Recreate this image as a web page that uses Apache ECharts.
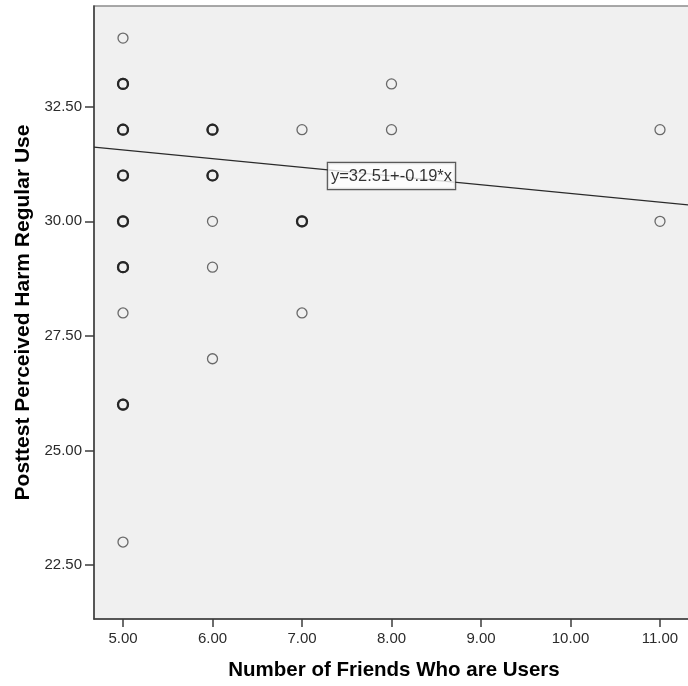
<!DOCTYPE html>
<html>
<head>
<meta charset="utf-8">
<script src="https://cdn.jsdelivr.net/npm/echarts@6/dist/echarts.min.js"></script>
<style>
  html, body { margin: 0; padding: 0; background: #ffffff; overflow: hidden; }
  #chart { width: 688px; height: 686px; }
</style>
</head>
<body>
<div id="chart"></div>
<script>
// Number of friends who are users (x) for each respondent
const friends = [
  5, 5, 5, 5, 5, 5, 5, 5, 5, 5, 5, 5, 5, 5, 5,
  6, 6, 6, 6, 6, 6, 6,
  7, 7, 7, 7,
  8, 8,
  11, 11
];
// Posttest perceived harm of regular use (y) for each respondent
const harm = [
  34, 33, 33, 32, 32, 31, 31, 30, 30, 29, 29, 28, 26, 26, 23,
  32, 32, 31, 31, 30, 29, 27,
  32, 30, 30, 28,
  33, 32,
  32, 30
];
// Fitted linear regression: y = intercept + slope * x
const intercept = [32.51];
const slope = [-0.19];
const xTicks = [5, 6, 7, 8, 9, 10, 11];
const yTicks = [22.5, 25, 27.5, 30, 32.5];
const xRange = [4.676, 11.38];
const yRange = [21.32, 34.70];

// Overlapping respondents are drawn with a heavier outline
const counts = {};
friends.forEach((f, i) => { const k = f + '|' + harm[i]; counts[k] = (counts[k] || 0) + 1; });
const points = friends.map((f, i) => {
  const many = counts[f + '|' + harm[i]] > 1;
  return {
    value: [f, harm[i]],
    itemStyle: many ? { borderWidth: 2.2, borderColor: '#1e1e1e' } : { borderWidth: 1.3, borderColor: '#474747' }
  };
});
const fit = x => intercept[0] + slope[0] * x;
const fitLine = xRange.map(x => [x, fit(x)]);
const labelX = 8;
const fitText = 'y=' + intercept[0].toFixed(2) + '+' + slope[0].toFixed(2) + '*x';

const family = 'Liberation Sans, Arial, sans-serif';
const tickFont = { fontFamily: family, fontSize: 15, color: '#2b2b2b' };
const nameFont = { fontFamily: family, fontSize: 20.5, fontWeight: 'bold', color: '#000' };

const chart = echarts.init(document.getElementById('chart'), null, { renderer: 'canvas' });
chart.setOption({
  animation: false,
  backgroundColor: '#ffffff',
  grid: {
    left: 94, top: 6, width: 600, bottom: 67,
    outerBoundsMode: 'none',
    containLabel: false,
    show: true, backgroundColor: '#f0f0f0', borderColor: '#8c8c8c', borderWidth: 1.5
  },
  xAxis: {
    type: 'value', min: xRange[0], max: xRange[1],
    name: 'Number of Friends Who are Users', nameLocation: 'middle', nameGap: 41,
    nameTextStyle: nameFont,
    splitLine: { show: false },
    axisLine: { show: true, lineStyle: { color: '#3c3c3c', width: 1.5 } },
    axisTick: { show: true, length: 8, customValues: xTicks, lineStyle: { color: '#3c3c3c', width: 1.5 } },
    axisLabel: Object.assign({ customValues: xTicks, margin: 12, formatter: v => v.toFixed(2) }, tickFont)
  },
  yAxis: {
    type: 'value', min: yRange[0], max: yRange[1],
    name: 'Posttest Perceived Harm Regular Use', nameLocation: 'middle', nameGap: 57,
    nameTextStyle: Object.assign({}, nameFont, { fontSize: 21 }),
    splitLine: { show: false },
    axisLine: { show: true, lineStyle: { color: '#3c3c3c', width: 1.5 } },
    axisTick: { show: true, length: 9, customValues: yTicks, lineStyle: { color: '#3c3c3c', width: 1.5 } },
    axisLabel: Object.assign({ customValues: yTicks, margin: 12, formatter: v => v.toFixed(2) }, tickFont)
  },
  series: [
    {
      type: 'scatter',
      data: points,
      symbol: 'circle',
      symbolSize: 10,
      itemStyle: { color: 'rgba(0,0,0,0)' },
      z: 3
    },
    {
      type: 'line',
      data: fitLine,
      symbol: 'none',
      lineStyle: { color: '#2a2a2a', width: 1.2 },
      z: 2
    },
    {
      type: 'scatter',
      data: [[labelX, fit(labelX)]],
      symbolSize: 0,
      label: {
        show: true, position: 'inside', formatter: fitText,
        fontFamily: family, fontSize: 16.5, color: '#000',
        backgroundColor: '#ffffff', borderColor: '#333', borderWidth: 1.2,
        padding: [5, 3, 4, 3]
      },
      z: 4
    }
  ]
});
</script>
</body>
</html>
